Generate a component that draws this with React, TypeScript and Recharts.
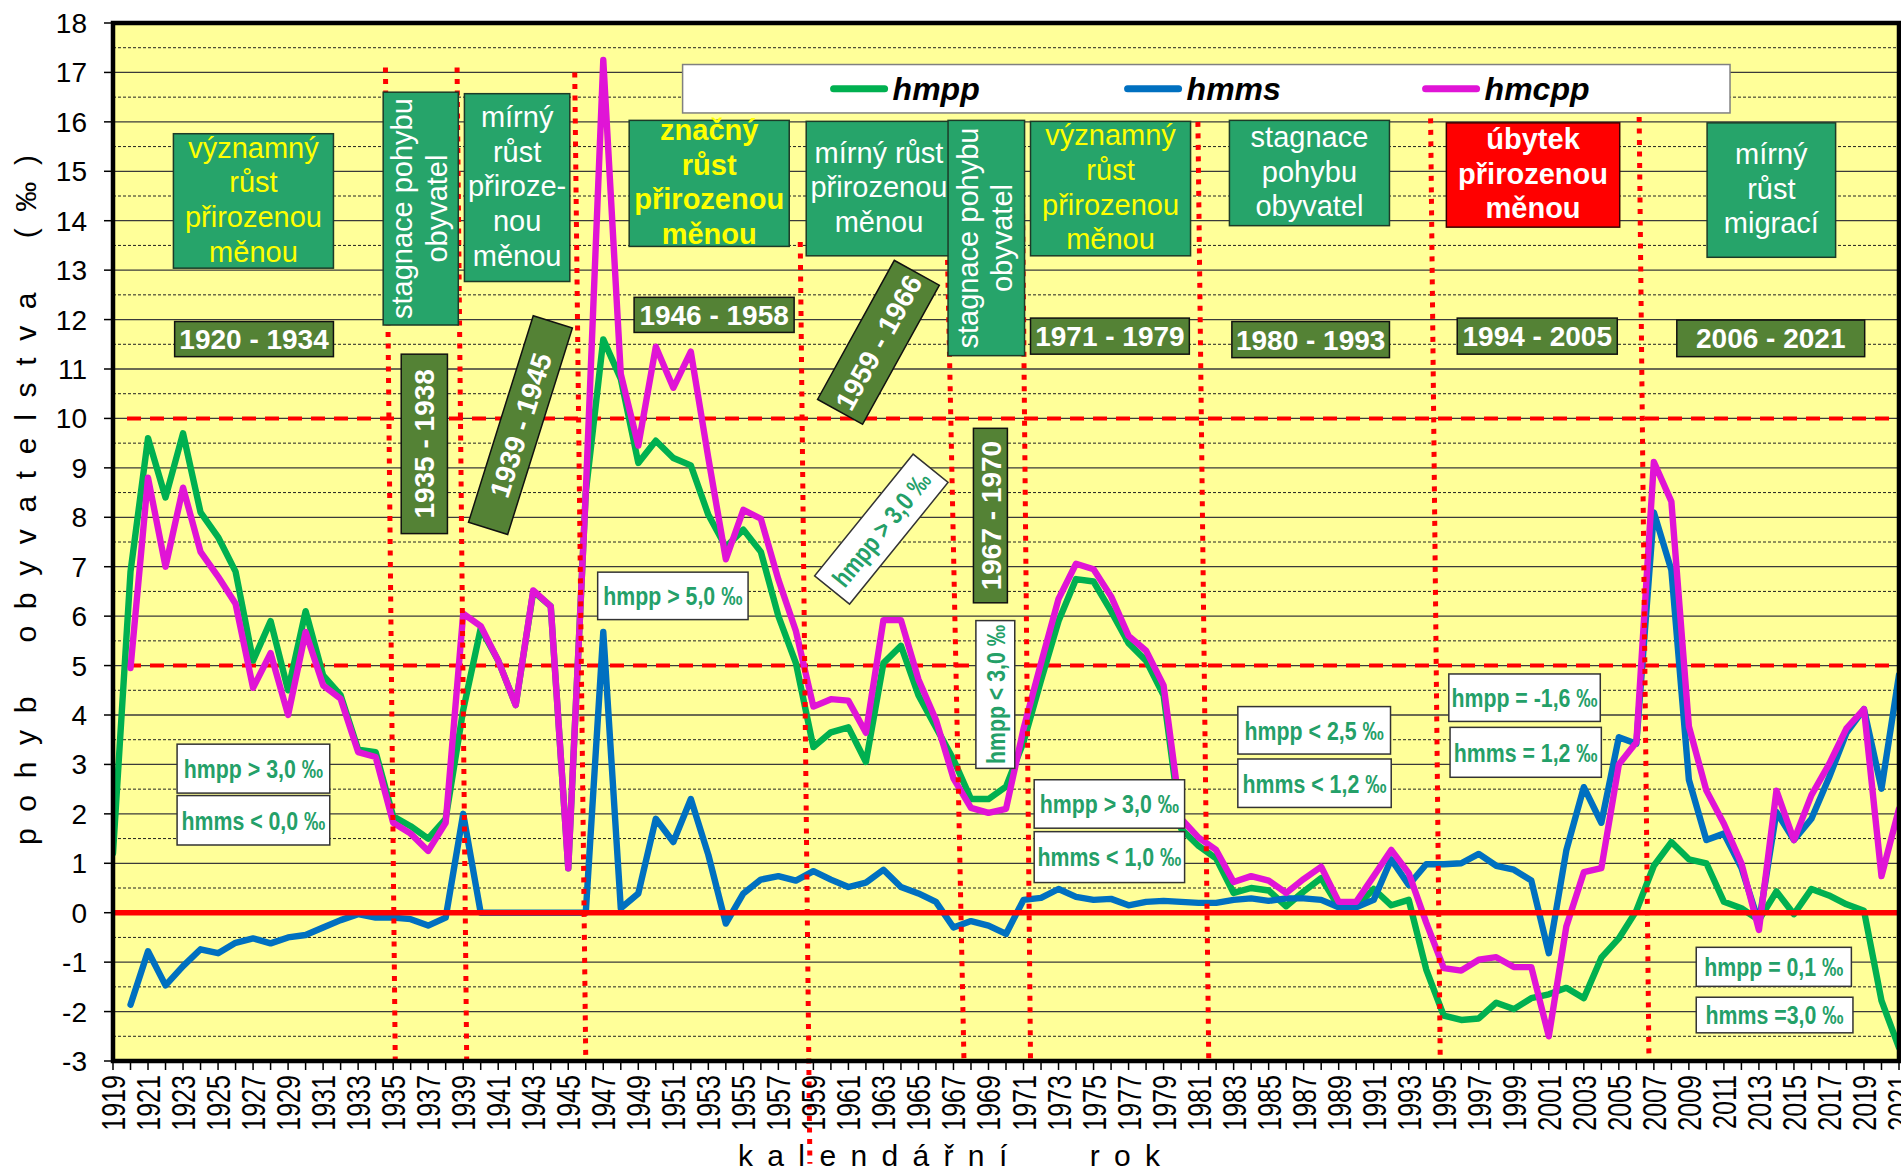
import React from 'react';
import { LineChart, Line, XAxis, YAxis, CartesianGrid, ReferenceLine, ReferenceArea } from 'recharts';

// ---------- DATA ----------
const years: number[] = [];
for (let y = 1919; y <= 2021; y++) years.push(y);

// hmpp – přirozený přírůstek (‰)
const hmpp: (number | null)[] = [
  1.2, 6.9, 9.6, 8.4, 9.7, 8.1, 7.6, 6.9, 5.1, 5.9,
  4.5, 6.1, 4.8, 4.4, 3.3, 3.25, 1.95, 1.75, 1.5, 1.9,
  4.1, 5.75, 5.1, 4.2, 6.5, 6.2, 0.9, 8.5, 11.6, 10.8,
  9.1, 9.55, 9.2, 9.05, 8.05, 7.4, 7.75, 7.3, 6.0, 5.05,
  3.35, 3.65, 3.75, 3.05, 5.05, 5.4, 4.4, 3.75, 3.1, 2.3,
  2.3, 2.55, 3.45, 4.7, 5.9, 6.75, 6.7, 6.1, 5.45, 5.1,
  4.4, 1.7, 1.35, 1.1, 0.4, 0.5, 0.45, 0.13, 0.43, 0.7,
  0.12, 0.12, 0.48, 0.15, 0.26, -1.15, -2.08, -2.17, -2.14, -1.82,
  -1.95, -1.73, -1.65, -1.52, -1.73, -0.91, -0.52, 0.04, 0.95, 1.43,
  1.08, 1.0, 0.22, 0.09, -0.15, 0.43, -0.03, 0.48, 0.35, 0.17,
  0.04, -1.78, -2.73,
];

// hmms – migrační saldo (‰)
const hmms: (number | null)[] = [
  null, -1.86, -0.78, -1.47, -1.08, -0.74, -0.82, -0.61, -0.52, -0.62,
  -0.5, -0.45, -0.3, -0.15, -0.03, -0.1, -0.1, -0.13, -0.26, -0.1,
  2.0, 0, 0, 0, 0, 0, 0, 0, 5.68, 0.09,
  0.39, 1.9, 1.43, 2.3, 1.17, -0.22, 0.39, 0.67, 0.74, 0.65,
  0.84, 0.67, 0.52, 0.61, 0.87, 0.52, 0.39, 0.22, -0.3, -0.17,
  -0.26, -0.43, 0.26, 0.3, 0.48, 0.32, 0.26, 0.28, 0.15, 0.22,
  0.24, 0.22, 0.2, 0.2, 0.26, 0.29, 0.24, 0.29, 0.29, 0.26,
  0.11, 0.11, 0.26, 1.08, 0.56, 0.98, 0.98, 1.0, 1.19, 0.95,
  0.87, 0.65, -0.82, 1.26, 2.54, 1.82, 3.55, 3.42, 8.1, 6.93,
  2.69, 1.47, 1.6, 0.91, -0.2, 2.04, 1.47, 1.9, 2.73, 3.64,
  4.12, 2.51, 4.81,
];

// hmcpp – celkový přírůstek (‰)
const hmcpp: (number | null)[] = [
  null, 4.95, 8.8, 7.0, 8.6, 7.3, 6.8, 6.25, 4.55, 5.25,
  4.0, 5.68, 4.6, 4.33, 3.25, 3.15, 1.82, 1.6, 1.25, 1.82,
  6.05, 5.8, 5.1, 4.2, 6.52, 6.2, 0.9, 8.5, 17.25, 10.9,
  9.45, 11.45, 10.62, 11.35, 9.2, 7.15, 8.15, 7.97, 6.74, 5.7,
  4.17, 4.32, 4.29, 3.64, 5.92, 5.92, 4.72, 3.9, 2.72, 2.12,
  2.02, 2.1, 3.72, 5.05, 6.35, 7.06, 6.95, 6.4, 5.6, 5.3,
  4.6, 1.9, 1.52, 1.27, 0.62, 0.74, 0.65, 0.4, 0.68, 0.93,
  0.22, 0.22, 0.74, 1.27, 0.8, -0.2, -1.12, -1.17, -0.95, -0.9,
  -1.1, -1.1, -2.5, -0.28, 0.82, 0.9, 3.0, 3.45, 9.12, 8.32,
  3.77, 2.47, 1.8, 1.0, -0.35, 2.47, 1.47, 2.38, 3.0, 3.73,
  4.12, 0.74, 2.1,
];

const yTicks = [-3, -2, -1, 0, 1, 2, 3, 4, 5, 6, 7, 8, 9, 10, 11, 12, 13, 14, 15, 16, 17, 18];
const minorGrid = [-2.5, -1.5, -0.5, 0.5, 1.5, 2.5, 3.5, 4.5, 5.5, 6.5, 7.5, 8.5, 9.5, 10.5, 11.5, 12.5, 13.5, 14.5, 15.5, 16.5, 17.5];

const seriesKeys = ['hmpp', 'hmms', 'hmcpp'];
const seriesNames = ['hmpp', 'hmms', 'hmcpp'];
const seriesColors = ['#00B050', '#0070C0', '#E014D6'];

const yTitle = 'p o h y b    o b y v a t e l s t v a    ( ‰ )';
const xTitle = 'k a l e n d á ř n í       r o k';

// period separators (year at top, value at top, year at bottom, value at bottom)
const separators = [
  { xa: 1934.56, ya: 17.1, xb: 1935.12, yb: -3 },
  { xa: 1938.65, ya: 17.1, xb: 1939.2, yb: -3 },
  { xa: 1945.37, ya: 17.0, xb: 1946.0, yb: -3 },
  { xa: 1958.25, ya: 13.57, xb: 1958.8, yb: -5.08 },
  { xa: 1966.5, ya: 16.0, xb: 1967.6, yb: -3 },
  { xa: 1970.9, ya: 16.0, xb: 1971.4, yb: -3 },
  { xa: 1980.96, ya: 16.0, xb: 1981.58, yb: -3 },
  { xa: 1994.25, ya: 16.07, xb: 1994.8, yb: -3 },
  { xa: 2006.16, ya: 16.1, xb: 2006.72, yb: -3 },
];
const thresholdLevels = [10, 5];

type Ann = {
  kind: 'green' | 'olive' | 'white' | 'red';
  x1: number; x2: number; y1: number; y2: number;
  lines: string[];
  color?: string; bold?: boolean; vertical?: boolean; rot?: number;
};

const annotations: Ann[] = [
  // green phase boxes
  { kind: 'green', x1: 1922.45, x2: 1931.59, y1: 13.04, y2: 15.76, lines: ['významný', 'růst', 'přirozenou', 'měnou'], color: '#FFFF00' },
  { kind: 'green', x1: 1934.43, x2: 1938.72, y1: 11.89, y2: 16.6, lines: ['stagnace pohybu', 'obyvatel'], vertical: true },
  { kind: 'green', x1: 1939.07, x2: 1945.09, y1: 12.77, y2: 16.57, lines: ['mírný', 'růst', 'přiroze-', 'nou', 'měnou'] },
  { kind: 'green', x1: 1948.48, x2: 1957.62, y1: 13.48, y2: 16.03, lines: ['značný', 'růst', 'přirozenou', 'měnou'], color: '#FFFF00', bold: true },
  { kind: 'green', x1: 1958.59, x2: 1966.9, y1: 13.29, y2: 16.01, lines: ['mírný růst', 'přirozenou', 'měnou'] },
  { kind: 'green', x1: 1966.69, x2: 1971.06, y1: 11.27, y2: 16.03, lines: ['stagnace pohybu', 'obyvatel'], vertical: true },
  { kind: 'green', x1: 1971.4, x2: 1980.54, y1: 13.29, y2: 16.01, lines: ['významný', 'růst', 'přirozenou', 'měnou'], color: '#FFFF00' },
  { kind: 'green', x1: 1982.76, x2: 1991.9, y1: 13.9, y2: 16.03, lines: ['stagnace', 'pohybu', 'obyvatel'] },
  { kind: 'red', x1: 1995.15, x2: 2005.05, y1: 13.87, y2: 15.98, lines: ['úbytek', 'přirozenou', 'měnou'] },
  { kind: 'green', x1: 2010.04, x2: 2017.38, y1: 13.26, y2: 15.98, lines: ['mírný', 'růst', 'migrací'] },
  // period labels
  { kind: 'olive', x1: 1922.52, x2: 1931.59, y1: 11.25, y2: 11.96, lines: ['1920 - 1934'] },
  { kind: 'olive', x1: 1935.46, x2: 1938.1, y1: 7.67, y2: 11.3, lines: ['1935 - 1938'], vertical: true },
  { kind: 'olive', x1: 1936.09, x2: 1948.45, y1: 9.45, y2: 10.28, lines: ['1939 - 1945'], rot: -72.6 },
  { kind: 'olive', x1: 1948.76, x2: 1957.9, y1: 11.74, y2: 12.45, lines: ['1946 - 1958'] },
  { kind: 'olive', x1: 1958.18, x2: 1967.25, y1: 11.02, y2: 12.06, lines: ['1959 - 1966'], rot: -61.1 },
  { kind: 'olive', x1: 1971.4, x2: 1980.47, y1: 11.3, y2: 12.03, lines: ['1971 - 1979'] },
  { kind: 'olive', x1: 1982.9, x2: 1991.9, y1: 11.23, y2: 11.96, lines: ['1980 - 1993'] },
  { kind: 'olive', x1: 1995.77, x2: 2004.91, y1: 11.3, y2: 12.03, lines: ['1994 - 2005'] },
  { kind: 'olive', x1: 2008.31, x2: 2019.04, y1: 11.25, y2: 11.99, lines: ['2006 - 2021'] },
  { kind: 'olive', x1: 1968.14, x2: 1970.08, y1: 6.27, y2: 9.8, lines: ['1967 - 1970'], vertical: true },
  // value notes
  { kind: 'white', x1: 1922.66, x2: 1931.38, y1: 2.42, y2: 3.41, lines: ['hmpp > 3,0 ‰'] },
  { kind: 'white', x1: 1922.66, x2: 1931.38, y1: 1.37, y2: 2.37, lines: ['hmms < 0,0 ‰'] },
  { kind: 'white', x1: 1946.68, x2: 1955.27, y1: 5.93, y2: 6.89, lines: ['hmpp > 5,0 ‰'] },
  { kind: 'white', x1: 1958.41, x2: 1967.35, y1: 7.305, y2: 8.215, lines: ['hmpp > 3,0 ‰'], rot: -51 },
  { kind: 'white', x1: 1968.28, x2: 1970.5, y1: 2.92, y2: 5.91, lines: ['hmpp < 3,0 ‰'], vertical: true },
  { kind: 'white', x1: 1971.61, x2: 1980.2, y1: 1.71, y2: 2.69, lines: ['hmpp > 3,0 ‰'] },
  { kind: 'white', x1: 1971.61, x2: 1980.2, y1: 0.61, y2: 1.64, lines: ['hmms < 1,0 ‰'] },
  { kind: 'white', x1: 1983.24, x2: 1991.96, y1: 3.21, y2: 4.17, lines: ['hmpp < 2,5 ‰'] },
  { kind: 'white', x1: 1983.24, x2: 1992.0, y1: 2.13, y2: 3.11, lines: ['hmms < 1,2 ‰'] },
  { kind: 'white', x1: 1995.29, x2: 2003.94, y1: 3.87, y2: 4.83, lines: ['hmpp = -1,6 ‰'] },
  { kind: 'white', x1: 1995.36, x2: 2004.0, y1: 2.74, y2: 3.75, lines: ['hmms = 1,2 ‰'] },
  { kind: 'white', x1: 2009.42, x2: 2018.28, y1: -1.49, y2: -0.7, lines: ['hmpp = 0,1 ‰'] },
  { kind: 'white', x1: 2009.42, x2: 2018.37, y1: -2.43, y2: -1.71, lines: ['hmms =3,0 ‰'] },
];

const legendArea = { x1: 1951.53, x2: 2011.35, y1: 16.18, y2: 17.16 };
const legendOffsets = [151, 445, 743];

// ---------- STYLES ----------
const FONT = "'Liberation Sans', Arial, Helvetica, sans-serif";
const BOX: Record<string, any> = {
  green: { fill: '#26A46A', stroke: '#1d3b28', fs: 29, lh: 34.6, weight: 'normal', color: '#FFFFFF', sx: 1 },
  red: { fill: '#FF0000', stroke: '#3a0000', fs: 29, lh: 34.6, weight: 'bold', color: '#FFFFFF', sx: 1 },
  olive: { fill: '#548235', stroke: '#111', fs: 28, lh: 32, weight: 'bold', color: '#FFFFFF', sx: 1 },
  white: { fill: '#FFFFFF', stroke: '#333', fs: 26, lh: 30, weight: 'bold', color: '#24A068', sx: 0.82 },
};

const data = years.map((yr, i) => ({ year: yr, hmpp: hmpp[i], hmms: hmms[i], hmcpp: hmcpp[i] }));

function BoxShape(props: any) {
  const { x, y, width, height, ann } = props as { x: number; y: number; width: number; height: number; ann: Ann };
  const st = BOX[ann.kind];
  const cx = x + width / 2;
  const cy = y + height / 2;
  let w = width, h = height, rot = ann.rot || 0;
  if (ann.vertical) { w = height; h = width; rot = -90; }
  const n = ann.lines.length;
  const isNum = ann.kind === 'olive' || ann.kind === 'white';
  return (
    <g transform={rot ? `rotate(${rot} ${cx} ${cy})` : undefined}>
      <rect x={cx - w / 2} y={cy - h / 2} width={w} height={h} fill={st.fill} stroke={st.stroke} strokeWidth={1.5} />
      {ann.lines.map((t, i) => {
        const ty = cy + (i - (n - 1) / 2) * st.lh;
        return (
          <text key={i} transform={`translate(${cx} ${ty}) scale(${st.sx} 1)`} x={0} y={0}
            dy={isNum ? '0.36em' : '0.3em'} textAnchor="middle" fontFamily={FONT} fontSize={st.fs}
            fontWeight={ann.bold ? 'bold' : st.weight} fill={ann.color || st.color}>{t}</text>
        );
      })}
    </g>
  );
}

function LegendShape(props: any) {
  const { x, y, width, height } = props;
  const cy = y + height / 2;
  return (
    <g>
      <rect x={x} y={y} width={width} height={height} fill="#FFFFFF" stroke="#808080" strokeWidth={1.5} />
      {seriesNames.map((nm, i) => (
        <g key={nm}>
          <line x1={x + legendOffsets[i]} x2={x + legendOffsets[i] + 51} y1={cy} y2={cy} stroke={seriesColors[i]} strokeWidth={7} strokeLinecap="round" />
          <text x={x + legendOffsets[i] + 59} y={cy} dy="0.36em" fontFamily={FONT} fontSize={32} fontWeight="bold" fontStyle="italic" fill="#000">{nm}</text>
        </g>
      ))}
    </g>
  );
}

const XTick = (props: any) => {
  const { x, y, payload } = props;
  const v = payload.value as number;
  if ((v - 1919) % 2 !== 0) return <g />;
  return (
    <text transform={`translate(${x + 12} ${y}) rotate(-90) scale(0.76 1)`} x={0} y={0} textAnchor="end"
      fontFamily={FONT} fontSize={33} fill="#000">{v}</text>
  );
};

const YTick = (props: any) => {
  const { x, y, payload } = props;
  return (
    <text x={x} y={y} dy={10} textAnchor="end" fontFamily={FONT} fontSize={28} fill="#000">{payload.value}</text>
  );
};

const YTitle = (props: any) => {
  const vb = props.viewBox || { x: 53, y: 23, width: 60, height: 1038 };
  const cx = vb.x - 17;
  const cy = vb.y + vb.height / 2 - 42;
  return (
    <text transform={`translate(${cx} ${cy}) rotate(-90)`} x={0} y={0} textAnchor="middle" fontFamily={FONT}
      fontSize={30} fill="#000" textLength={690} lengthAdjust="spacing" style={{ whiteSpace: 'pre' }}>{yTitle}</text>
  );
};

const XTitle = (props: any) => {
  const vb = props.viewBox || { x: 113, y: 1061, width: 1786, height: 70 };
  return (
    <text x={vb.x + vb.width / 2 - 57} y={vb.y + 105} textAnchor="middle" fontFamily={FONT} fontSize={30}
      fill="#000" textLength={422} lengthAdjust="spacing" style={{ whiteSpace: 'pre' }}>{xTitle}</text>
  );
};

export default function App() {
  return (
    <div style={{ position: 'absolute', left: 0, top: 0, width: 1901, height: 1172, background: '#FFFFFF', overflow: 'hidden' }}>
      <LineChart width={1901} height={1172} data={data} margin={{ top: 23, right: 2, bottom: 41, left: 53 }}>
        <CartesianGrid horizontal vertical={false} fill="#FFFF99" fillOpacity={1} stroke="#3a3a3a" strokeWidth={1.3} />
        <XAxis dataKey="year" type="number" domain={[1919, 2021]} ticks={years} interval={0} allowDataOverflow
          tickSize={9} tickMargin={5} tickLine={{ stroke: '#000', strokeWidth: 1.5 }} axisLine={false}
          height={70} tick={<XTick />} label={{ content: <XTitle /> } as any} />
        <YAxis type="number" domain={[-3, 18]} ticks={yTicks} interval={0} allowDataOverflow width={60}
          tickSize={9} tickMargin={17} tickLine={{ stroke: '#000', strokeWidth: 1.5 }} axisLine={false}
          tick={<YTick />} label={{ content: <YTitle /> } as any} />
        {minorGrid.map((v) => (
          <ReferenceLine key={'mg' + v} y={v} stroke="#222" strokeWidth={1} strokeDasharray="3 2" {...({ zIndex: -90 } as any)} />
        ))}
        {thresholdLevels.map((v) => (
          <ReferenceLine key={'th' + v} segment={[{ x: 1919.8, y: v }, { x: 2021, y: v }]} stroke="#FF0000" strokeWidth={4}
            strokeDasharray="14 9" {...({ zIndex: -80 } as any)} />
        ))}
        {seriesKeys.map((k, i) => (
          <Line key={k} dataKey={k} name={seriesNames[i]} type="linear" stroke={seriesColors[i]} strokeWidth={6.4}
            dot={false} activeDot={false} isAnimationActive={false} connectNulls={false}
            strokeLinejoin="round" strokeLinecap="round" {...({ zIndex: 400 + i } as any)} />
        ))}
        <ReferenceLine y={0} stroke="#FF0000" strokeWidth={5.5} {...({ zIndex: 450 } as any)} />
        {separators.map((s, i) => (
          <ReferenceLine key={'sep' + i} segment={[{ x: s.xa, y: s.ya }, { x: s.xb, y: s.yb }]} stroke="#FF0000"
            strokeWidth={5} strokeDasharray="5 6.5" ifOverflow="visible" {...({ zIndex: 460 } as any)} />
        ))}
        <ReferenceArea x1={1919} x2={2021} y1={-3} y2={18} fill="none" stroke="#000" strokeWidth={4.5}
          {...({ zIndex: 470 } as any)} />
        {annotations.map((a, i) => (
          <ReferenceArea key={'ann' + i} x1={a.x1} x2={a.x2} y1={a.y1} y2={a.y2} ifOverflow="visible"
            shape={(p: any) => <BoxShape {...p} ann={a} />} {...({ zIndex: 1500 } as any)} />
        ))}
        <ReferenceArea x1={legendArea.x1} x2={legendArea.x2} y1={legendArea.y1} y2={legendArea.y2} ifOverflow="visible"
          shape={(p: any) => <LegendShape {...p} />} {...({ zIndex: 1500 } as any)} />
      </LineChart>
    </div>
  );
}
